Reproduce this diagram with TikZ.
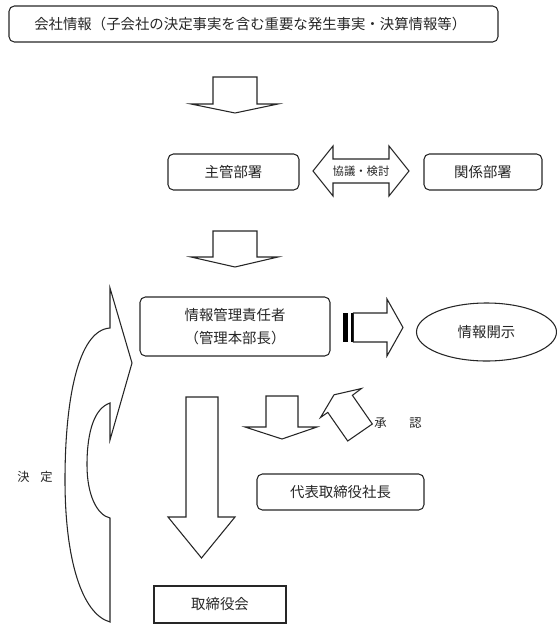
\documentclass[tikz,border=0pt]{standalone}
\usepackage{fontspec}
\usetikzlibrary{shapes.geometric}
\newfontfamily\jp{Noto Sans CJK JP}
\begin{document}
\begin{tikzpicture}[x=0.75pt,y=-0.75pt,
  ln/.style={draw=black!85, line width=0.8pt, line join=miter},
  txt/.style={font=\jp\fontsize{10.8}{15}\selectfont, text=black!85},
  rbox/.style={ln, rounded corners=4pt, inner sep=0pt, align=center, txt},
  sbox/.style={ln, inner sep=0pt, align=center, txt},
  barrow/.style={ln, fill=white},
  small/.style={font=\jp\fontsize{8.5}{11}\selectfont, text=black!85, inner sep=0pt},
  side/.style={font=\jp\fontsize{9.2}{12}\selectfont, text=black!85, inner sep=0pt}]
\useasboundingbox (0,0) rectangle (557,626);

% nodes
\node[rbox, minimum width=366.75pt, minimum height=27pt] (info) at (253.5,24) {};
\node[txt, anchor=west, inner sep=0pt] (infotxt) at (34,24) {会社情報（子会社の決定事実を含む重要な発生事実・決算情報等）};
\node[rbox, minimum width=98.25pt, minimum height=27pt] (shukan) at (233.5,172) {主管部署};
\node[rbox, minimum width=88.5pt, minimum height=27pt] (kankei) at (483,172) {関係部署};
\node[rbox, minimum width=142.5pt, minimum height=44.25pt] (sekinin) at (235,326.5) {情報管理責任者\\[2pt]（管理本部長）};
\node[ln, ellipse, minimum width=105pt, minimum height=43.5pt, inner sep=0pt, txt] (kaiji) at (486.5,332) {情報開示};
\node[rbox, minimum width=125.25pt, minimum height=27pt] (shacho) at (340.5,492) {代表取締役社長};
\node[sbox, minimum width=99pt, minimum height=27.75pt] (torikai) at (220,604.5) {取締役会};

% block arrows
\draw[barrow] (213,77) -- (257,77) -- (257,104) -- (278,104) -- (235,113) -- (191,104) -- (213,104) -- cycle;
\draw[barrow] (213,231) -- (257,231) -- (257,257) -- (278,257) -- (235,267) -- (191,257) -- (213,257) -- cycle;
\draw[barrow] (313,171) -- (333,146) -- (333,159) -- (389,159) -- (389,146) -- (409,171) -- (389,196) -- (389,183) -- (333,183) -- (333,196) -- cycle;
\node[small] (kyogi) at (361,171) {協議・検討};

% striped arrow to disclosure
\fill[black] (343,313) rectangle (348,342);
\fill[black] (350.7,313) rectangle (353.3,342);
\draw[barrow] (353.3,313) -- (387,313) -- (387,299) -- (403,327.5) -- (387,356) -- (387,342) -- (353.3,342) -- cycle;

% long arrow to board
\draw[barrow] (186,397) -- (218,397) -- (218,517) -- (235,517) -- (201.5,558) -- (168,517) -- (186,517) -- cycle;
% small down arrow
\draw[barrow] (266,396) -- (298,396) -- (298,427) -- (317,427) -- (282,439) -- (245,427) -- (266,427) -- cycle;
% diagonal approval arrow
\draw[barrow] (347.7,441) -- (327.8,412.4) -- (320.5,417.5) -- (334,394.8) -- (361.5,388.5) -- (352.4,395.3) -- (372.3,424) -- cycle;
\node[side] (shonin) at (398,423) {承\hspace{17pt}認};

% curved decision arrow
\draw[barrow] (110,328) -- (110,288) -- (132,363) -- (110,440) -- (110,403)
  .. controls (95,408) and (87,430) .. (87,465)
  .. controls (87,495) and (97,515) .. (110,518) -- (110,622)
  .. controls (82,614) and (65,560) .. (65,480)
  .. controls (65,400) and (78,330) .. (110,328) -- cycle;
\node[side] (kettei) at (35,477) {決\hspace{8pt}定};
\end{tikzpicture}
\end{document}
